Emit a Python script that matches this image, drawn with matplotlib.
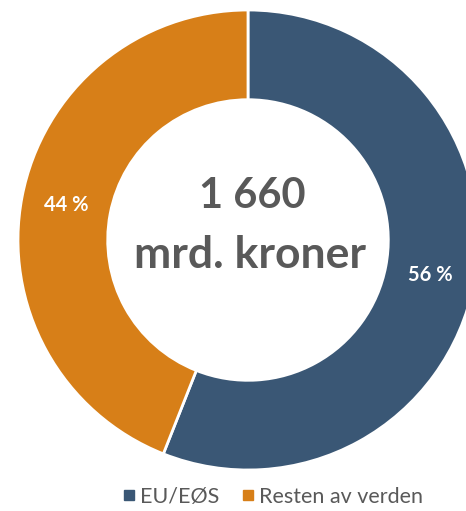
import numpy as np
import matplotlib.pyplot as plt
from matplotlib.lines import Line2D

plt.rcParams['font.family'] = ['Lato', 'DejaVu Sans']

# data
kategorier = ['EU/EØS', 'Resten av verden']
andeler = [56, 44]
farger = ['#3A5775', '#D77F18']
etiketter = ['56 %', '44 %']

fig = plt.figure(figsize=(4.66, 5.11), dpi=100)
# axes placed so the ring sits like in the original (right side cut off)
ax = fig.add_axes([18/466, 41/511, 460/466, 460/511])

wedges, _ = ax.pie(
    andeler,
    colors=farger,
    startangle=90,
    counterclock=False,
    radius=1,
    wedgeprops=dict(width=0.39, edgecolor='white', linewidth=2),
)

# prosentetiketter midt i ringen
for w, tekst in zip(wedges, etiketter):
    vinkel = np.deg2rad((w.theta1 + w.theta2) / 2)
    ax.text(0.805 * np.cos(vinkel), 0.805 * np.sin(vinkel), tekst,
            ha='center', va='center', color='white',
            fontsize=14.5, fontweight='bold')

# tekst i midten
ax.text(0.02, 0.19, '1 660', ha='center', va='center',
        fontsize=30, fontweight='bold', color='#595959')
ax.text(0.01, -0.065, 'mrd. kroner', ha='center', va='center',
        fontsize=32, fontweight='bold', color='#595959')

ax.set_xlim(-1, 1)
ax.set_ylim(-1, 1)
ax.set_aspect('equal')
ax.axis('off')

handles = [Line2D([], [], marker='s', linestyle='none', markersize=7,
                  markerfacecolor=f, markeredgecolor=f) for f in farger]
fig.legend(handles, kategorier, loc='center',
           bbox_to_anchor=(272/466, 1 - 497/511), ncol=2, frameon=False,
           fontsize=15.5, labelcolor='#595959', handletextpad=0.15,
           columnspacing=1.0, handlelength=0.7)

fig.savefig('out.png', dpi=100)
